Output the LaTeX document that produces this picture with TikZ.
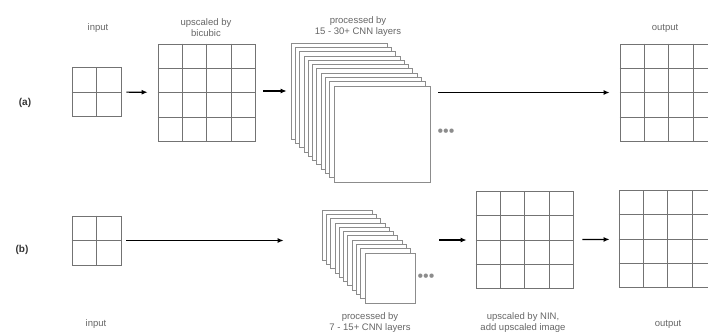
\documentclass[tikz,border=0pt]{standalone}
\usepackage{fontspec}
\setmainfont{Liberation Sans}
\usetikzlibrary{arrows.meta,positioning,calc}
\definecolor{gridcol}{gray}{0.45}
\definecolor{layercol}{gray}{0.55}
\definecolor{labelcol}{gray}{0.40}
\tikzset{
  cell/.style     ={draw=gridcol,line width=0.8pt,inner sep=0pt,minimum size=#1,fill=white},
  gridline/.style ={draw=gridcol,line width=0.7pt},
  layer/.style    ={draw=layercol,line width=0.7pt,inner sep=0pt,minimum size=#1,fill=white},
  caption/.style  ={align=center,text=labelcol,font=\fontsize{9.5}{11}\selectfont},
  tag/.style      ={font=\fontsize{10}{12}\selectfont\bfseries,text=black!80},
  dots/.style     ={text=layercol,font=\fontsize{16}{16}\selectfont,inner sep=0pt},
  arrow/.style    ={-{Latex[length=6pt,width=5pt]},line width=1.2pt}
}

\begin{document}
\begin{tikzpicture}[x=1pt,y=1pt]
    \useasboundingbox (0,0) rectangle (708,333);
    \clip (0,0) rectangle (708,333);
    % row (a)
    \node[tag] (taga) at (25,230) {(a)};
    \node[cell=49pt]  (ina)  at (96.5,241)   {};
    \node[cell=97pt]  (bic)  at (206.5,240.5) {};
    \foreach \i in {0,...,10}
      \node[layer=96pt] (la\i) at (339+4.3*\i,242-4.3*\i) {};
    \node[dots] (dotsa) at (446,200) {•••};
    \node[cell=97pt]  (outa) at (668.5,240.5) {};
    \node[caption] (capina)  at (98,305)    {input};
    \node[caption] (capbic)  at (206,305.5) {upscaled by\\bicubic};
    \node[caption] (capcnna) at (358,306.5) {processed by\\15 - 30+ CNN layers};
    \node[caption] (capouta) at (665,305)   {output};
    % row (b)
    \node[tag] (tagb) at (22,83) {(b)};
    \node[cell=49pt]  (inb)  at (96.5,92.5) {};
    \foreach \i in {0,...,10}
      \node[layer=50pt] (lb\i) at (347+4.3*\i,98-4.3*\i) {};
    \node[dots] (dotsb) at (426,55) {•••};
    \node[cell=97pt]  (nin)  at (524.5,93)  {};
    \node[cell=97pt]  (outb) at (667.5,94)  {};
    \node[caption] (capinb)  at (96,9)   {input};
    \node[caption] (capcnnb) at (370,10) {processed by\\7 - 15+ CNN layers};
    \node[caption] (capnin)  at (523,10) {upscaled by NIN,\\add upscaled image};
    \node[caption] (capoutb) at (668,9)  {output};
    % cell lines
    \foreach \g in {ina,inb}
      \draw[gridline] (\g.north) -- (\g.south) (\g.west) -- (\g.east);
    \foreach \g in {bic,outa,nin,outb}
      \foreach \k in {1,2,3} {
        \draw[gridline] ($(\g.north west)!\k/4!(\g.north east)$) -- ($(\g.south west)!\k/4!(\g.south east)$);
        \draw[gridline] ($(\g.north west)!\k/4!(\g.south west)$) -- ($(\g.north east)!\k/4!(\g.south east)$);
      }
    % arrows
    \draw[arrow,shorten <=5pt,shorten >=10pt] (ina) -- (bic);
    \draw[arrow,shorten <=8pt,shorten >=4pt] (bic.east |- la0.west) -- (la0.west);
    \draw[arrow,shorten <=8pt,shorten >=10pt] (outa.west -| la10.east) -- (outa.west);
    \draw[arrow,shorten <=5pt,shorten >=38pt] (inb.east) -- (inb.east -| lb0.west);
    \draw[arrow,shorten <=24pt,shorten >=9pt] (nin.west -| lb10.east) -- (nin.west);
    \draw[arrow,shorten <=9pt,shorten >=9pt] (nin) -- (outb);
  \end{tikzpicture}
\end{document}
